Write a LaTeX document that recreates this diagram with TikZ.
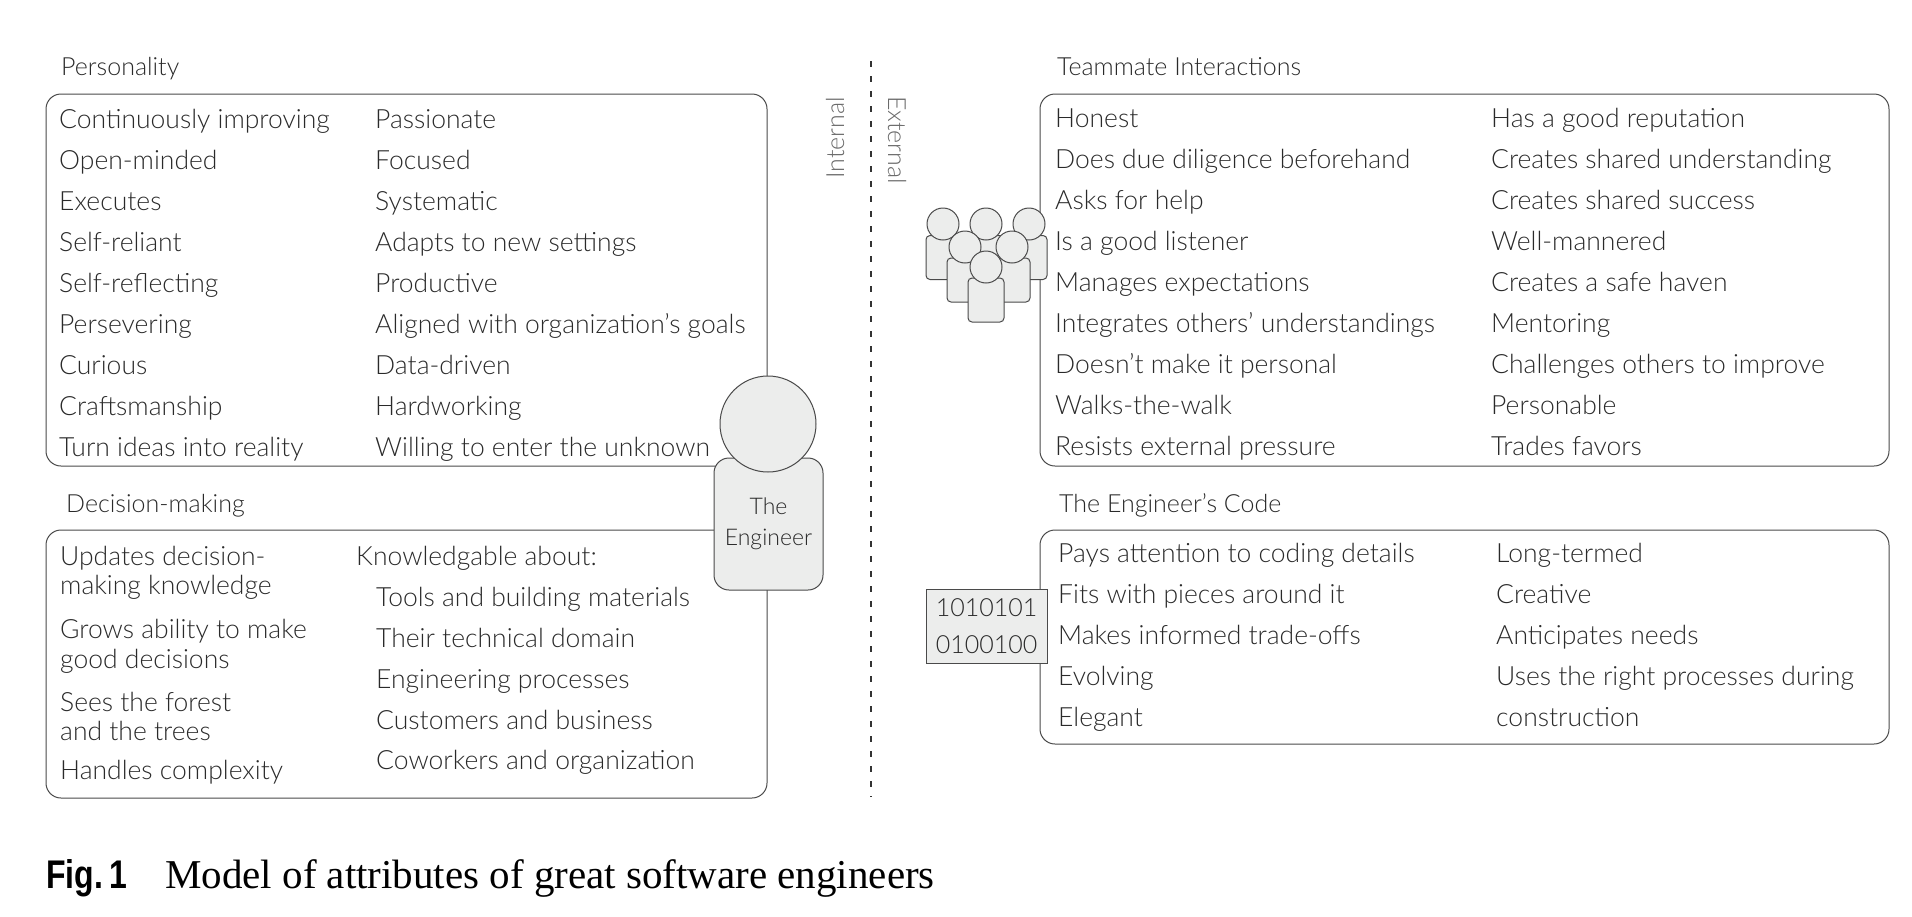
\documentclass[tikz,border=0pt]{standalone}
\usepackage{fontspec}
\setmainfont{Lato Light}
\newfontfamily\capserif{Liberation Serif}
\newfontfamily\capsans[FakeStretch=0.8]{Liberation Sans}
\definecolor{inkgray}{HTML}{2A2A2A}
\definecolor{linegray}{HTML}{4A4A4A}
\definecolor{softgray}{HTML}{6A6A6A}
\definecolor{fillgray}{HTML}{ECEDEC}
\begin{document}
\begin{tikzpicture}[
    x=1pt, y=-1pt,
    panel/.style={draw=linegray, line width=1pt, rounded corners=15pt},
    heading/.style={anchor=base west, inner sep=0pt, text=inkgray, font=\fontsize{25}{30}\selectfont},
    item/.style={anchor=base west, inner sep=0pt, text=inkgray, font=\fontsize{26.5}{30}\selectfont},
    side/.style={inner sep=0pt, text=softgray, font=\fontsize{25}{30}\selectfont},
    head/.style={circle, draw=linegray, line width=1pt, fill=fillgray, inner sep=0pt, minimum size=32pt},
    torso/.style={rectangle, draw=linegray, line width=1pt, fill=fillgray, rounded corners=4pt, minimum width=36pt, minimum height=44pt, inner sep=0pt},
    divider/.style={draw=black!80, line width=1.6pt, dash pattern=on 6pt off 9pt}
]
    \useasboundingbox (0,0) rectangle (1912,916);

    % panels
    \node [panel, minimum width=721pt, minimum height=372pt] (personality) at (406.5,280) {};
    \node [panel, minimum width=721pt, minimum height=268pt] (decision) at (406.5,664) {};
    \node [panel, minimum width=849pt, minimum height=372pt] (teammate) at (1464.5,280) {};
    \node [panel, minimum width=849pt, minimum height=214pt] (code) at (1464.5,637) {};

    % headings
    \node [heading] (personalitytitle) at (61,75) {Personality};
    \node [heading] (decisiontitle) at (66,512) {Decision-making};
    \node [heading] (teammatetitle) at (1057,75) {Teammate Interactions};
    \node [heading] (codetitle) at (1059,512) {The Engineer’s Code};

    % divider
    \coordinate (dividertop) at (871,61);
    \coordinate (dividerbottom) at (871,797);
    \draw [divider] (dividertop) -- (dividerbottom);
    \node [side, rotate=90] (internal) at (835,138) {Internal};
    \node [side, rotate=-90] (external) at (897,140) {External};

    % personality
    \node [item] (p1) at (59,128) {Continuously improving};
    \node [item] (p2) at (59,169) {Open-minded};
    \node [item] (p3) at (59,210) {Executes};
    \node [item] (p4) at (59,251) {Self-reliant};
    \node [item] (p5) at (59,292) {Self-reflecting};
    \node [item] (p6) at (59,333) {Persevering};
    \node [item] (p7) at (59,374) {Curious};
    \node [item] (p8) at (59,415) {Craftsmanship};
    \node [item] (p9) at (59,456) {Turn ideas into reality};
    \node [item] (q1) at (375,128) {Passionate};
    \node [item] (q2) at (375,169) {Focused};
    \node [item] (q3) at (375,210) {Systematic};
    \node [item] (q4) at (375,251) {Adapts to new settings};
    \node [item] (q5) at (375,292) {Productive};
    \node [item] (q6) at (375,333) {Aligned with organization’s goals};
    \node [item] (q7) at (375,374) {Data-driven};
    \node [item] (q8) at (375,415) {Hardworking};
    \node [item] (q9) at (375,456) {Willing to enter the unknown};

    % decision-making
    \node [item] (d1) at (60,565) {Updates decision-};
    \node [item] (d2) at (60,594) {making knowledge};
    \node [item] (d3) at (60,638) {Grows ability to make};
    \node [item] (d4) at (60,668) {good decisions};
    \node [item] (d5) at (60,711) {Sees the forest};
    \node [item] (d6) at (60,740) {and the trees};
    \node [item] (d7) at (60,779) {Handles complexity};
    \node [item] (k0) at (356,565) {Knowledgable about:};
    \node [item] (k1) at (376,606) {Tools and building materials};
    \node [item] (k2) at (376,647) {Their technical domain};
    \node [item] (k3) at (376,688) {Engineering processes};
    \node [item] (k4) at (376,729) {Customers and business};
    \node [item] (k5) at (376,769) {Coworkers and organization};

    % teammate interactions
    \node [item] (t1) at (1055,127) {Honest};
    \node [item] (t2) at (1055,168) {Does due diligence beforehand};
    \node [item] (t3) at (1055,209) {Asks for help};
    \node [item] (t4) at (1055,250) {Is a good listener};
    \node [item] (t5) at (1055,291) {Manages expectations};
    \node [item] (t6) at (1055,332) {Integrates others’ understandings};
    \node [item] (t7) at (1055,373) {Doesn’t make it personal};
    \node [item] (t8) at (1055,414) {Walks-the-walk};
    \node [item] (t9) at (1055,455) {Resists external pressure};
    \node [item] (u1) at (1491,127) {Has a good reputation};
    \node [item] (u2) at (1491,168) {Creates shared understanding};
    \node [item] (u3) at (1491,209) {Creates shared success};
    \node [item] (u4) at (1491,250) {Well-mannered};
    \node [item] (u5) at (1491,291) {Creates a safe haven};
    \node [item] (u6) at (1491,332) {Mentoring};
    \node [item] (u7) at (1491,373) {Challenges others to improve};
    \node [item] (u8) at (1491,414) {Personable};
    \node [item] (u9) at (1491,455) {Trades favors};

    % engineer's code
    \node [item] (c1) at (1058,562) {Pays attention to coding details};
    \node [item] (c2) at (1058,603) {Fits with pieces around it};
    \node [item] (c3) at (1058,644) {Makes informed trade-offs};
    \node [item] (c4) at (1058,685) {Evolving};
    \node [item] (c5) at (1058,726) {Elegant};
    \node [item] (e1) at (1496,562) {Long-termed};
    \node [item] (e2) at (1496,603) {Creative};
    \node [item] (e3) at (1496,644) {Anticipates needs};
    \node [item] (e4) at (1496,685) {Uses the right processes during};
    \node [item] (e5) at (1496,726) {construction};

    % the engineer
    \node [torso, minimum width=109pt, minimum height=132pt, rounded corners=15pt, align=center, text=inkgray, font=\fontsize{23}{31}\selectfont] (engineerbody) at (768.5,524) {The\\Engineer};
    \node [head, minimum size=96pt] (engineerhead) at (768,424) {};

    % teammates
    \node [torso] (backleft) at (944,257.5) {};
    \node [torso] (backmid) at (986,257.5) {};
    \node [torso] (backright) at (1029,257.5) {};
    \node [head] (headleft) at (943,224) {};
    \node [head] (headmid) at (986,224) {};
    \node [head] (headright) at (1029,224) {};
    \node [torso] (midleft) at (965,280) {};
    \node [torso] (midright) at (1012,280) {};
    \node [head] (headmidleft) at (965,247) {};
    \node [head] (headmidright) at (1012,247) {};
    \node [torso] (front) at (986,300) {};
    \node [head] (headfront) at (986,267) {};

    % binary
    \node [rectangle, draw=linegray, line width=1pt, fill=fillgray, minimum width=121pt, minimum height=74pt, align=center, inner sep=0pt, text=inkgray, font=\fontsize{25}{37}\selectfont] (binary) at (986.5,626) {1010101\\0100100};

    % caption
    \node [anchor=base west, inner sep=0pt, text=black, font=\capsans\bfseries\fontsize{40}{44}\selectfont] (figlabel) at (46,888) {Fig.\,1};
    \node [anchor=base west, inner sep=0pt, text=black, font=\capserif\fontsize{41}{44}\selectfont] (figcaption) at (165,888) {Model of attributes of great software engineers};
\end{tikzpicture}
\end{document}
